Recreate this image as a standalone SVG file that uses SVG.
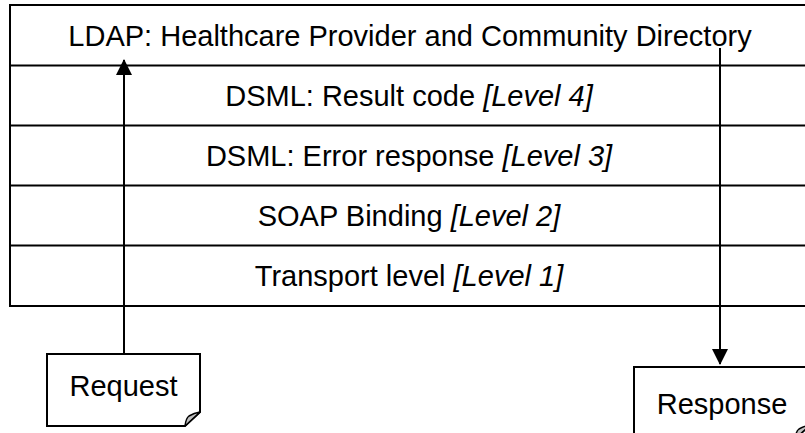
<svg xmlns="http://www.w3.org/2000/svg" width="805" height="433" viewBox="0 0 805 433">
  <defs>
    <style>
      .frame { fill: #ffffff; stroke: #000000; stroke-width: 2; }
      .rule { stroke: #000000; stroke-width: 2; fill: none; }
      .lbl { font-family: "Liberation Sans", Arial, sans-serif; font-size: 29px; fill: #000000; text-anchor: middle; }
      .lvl { font-style: italic; }
      .note { fill: #ffffff; stroke: #000000; stroke-width: 2; stroke-linejoin: miter; }
      .curl { fill: #c0c0c0; stroke: #000000; stroke-width: 1.5; stroke-linejoin: round; }
      .flow { stroke: #000000; stroke-width: 2; fill: none; }
    </style>
    <marker id="head" markerWidth="16" markerHeight="16" viewBox="0 0 16 16" refX="15" refY="8" orient="auto" markerUnits="userSpaceOnUse">
      <path d="M0,0 L16,8 L0,16 Z" fill="#000000"/>
    </marker>
  </defs>

  <!-- protocol stack -->
  <g id="stack">
    <rect class="frame" x="10" y="5" width="800" height="301"/>
    <line class="rule" x1="10" y1="65.5" x2="810" y2="65.5"/>
    <line class="rule" x1="10" y1="125.5" x2="810" y2="125.5"/>
    <line class="rule" x1="10" y1="185.5" x2="810" y2="185.5"/>
    <line class="rule" x1="10" y1="245.5" x2="810" y2="245.5"/>
  </g>
  <g id="ldap">
    <text class="lbl" x="410" y="45.5">LDAP: Healthcare Provider and Community Directory</text>
  </g>
  <g id="level4">
    <text class="lbl" x="409" y="105.5">DSML: Result code <tspan class="lvl">[Level 4]</tspan></text>
  </g>
  <g id="level3">
    <text class="lbl" x="409" y="165.5">DSML: Error response <tspan class="lvl">[Level 3]</tspan></text>
  </g>
  <g id="level2">
    <text class="lbl" x="409" y="225.5">SOAP Binding <tspan class="lvl">[Level 2]</tspan></text>
  </g>
  <g id="level1">
    <text class="lbl" x="409" y="285.5">Transport level <tspan class="lvl">[Level 1]</tspan></text>
  </g>

  <!-- connectors -->
  <g id="connectors">
    <line class="flow" x1="124" y1="354" x2="124" y2="60" marker-end="url(#head)"/>
    <line class="flow" x1="720" y1="48" x2="720" y2="364" marker-end="url(#head)"/>
  </g>

  <!-- request note -->
  <g id="request">
    <path class="note" d="M47,354 H200 V412 L185,426 H47 Z"/>
    <path class="curl" d="M200,412 L185,426 Q186,418 189,416 Q194,413 200,412 Z"/>
    <text class="lbl" x="123.5" y="395.5">Request</text>
  </g>

  <!-- response note -->
  <g id="response">
    <path class="note" d="M634,367 H810 V425 L795,439 H634 Z"/>
    <path class="curl" d="M810,425 L795,439 Q796,431 799,429 Q804,426 810,425 Z"/>
    <text class="lbl" x="722" y="413.5">Response</text>
  </g>
</svg>
